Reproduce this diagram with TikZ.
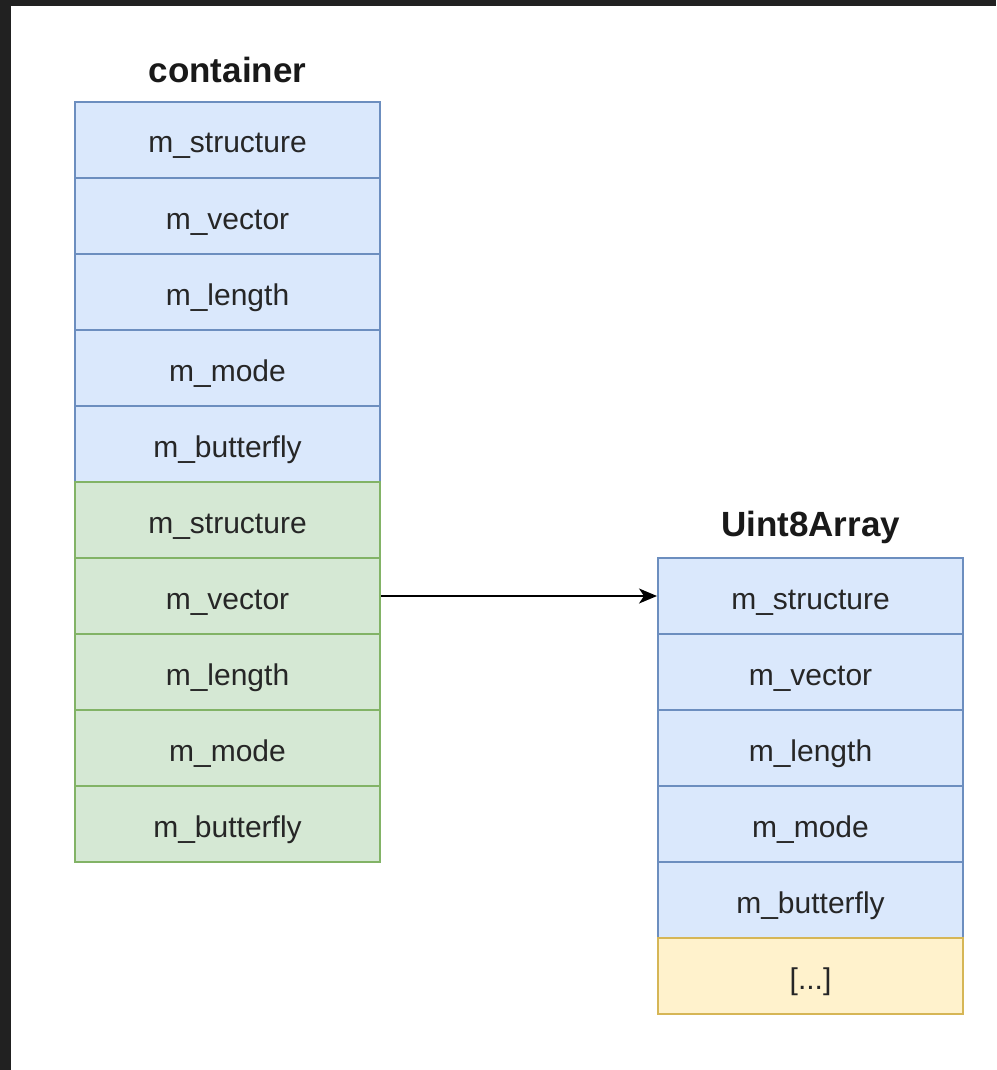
\documentclass[tikz,border=0pt]{standalone}
\usepackage{fontspec}
\setmainfont{Liberation Sans}
\usetikzlibrary{arrows.meta}
\definecolor{frame}{HTML}{212121}
\definecolor{bluefill}{HTML}{DAE8FC}
\definecolor{bluedraw}{HTML}{6C8EBF}
\definecolor{greenfill}{HTML}{D5E8D4}
\definecolor{greendraw}{HTML}{82B366}
\definecolor{yellowfill}{HTML}{FFF2CC}
\definecolor{yellowdraw}{HTML}{D6B656}
\tikzset{
  field/.style={rectangle, minimum width=305pt, minimum height=76pt, inner sep=0pt,
    line width=2pt, font=\fontsize{30}{36}\selectfont, text=black!85,
    text height=26pt, text depth=0pt},
  bluefield/.style={field, fill=bluefill, draw=bluedraw},
  greenfield/.style={field, fill=greenfill, draw=greendraw},
  yellowfield/.style={field, fill=yellowfill, draw=yellowdraw},
  title/.style={font=\fontsize{35}{40}\selectfont\bfseries, text=black!90},
  link/.style={line width=2pt, -{Stealth[length=18pt,width=15pt,inset=5pt]}}
}
\begin{document}
\begin{tikzpicture}[x=1pt,y=-1pt]
  % page and dark frame
  \fill[frame] (0,0) rectangle (996,1070);
  \fill[white] (11,6) rectangle (996,1070);
  \useasboundingbox (0,0) rectangle (996,1070);

  % container object
  \node[title] (ctitle) at (227.5,70) {container};
  \node[bluefield]  (c1)  at (227.5,140) {m\_structure};
  \node[bluefield]  (c2)  at (227.5,216) {m\_vector};
  \node[bluefield]  (c3)  at (227.5,292) {m\_length};
  \node[bluefield]  (c4)  at (227.5,368) {m\_mode};
  \node[bluefield]  (c5)  at (227.5,444) {m\_butterfly};
  \node[greenfield] (c6)  at (227.5,520) {m\_structure};
  \node[greenfield] (c7)  at (227.5,596) {m\_vector};
  \node[greenfield] (c8)  at (227.5,672) {m\_length};
  \node[greenfield] (c9)  at (227.5,748) {m\_mode};
  \node[greenfield] (c10) at (227.5,824) {m\_butterfly};

  % Uint8Array object
  \node[title] (utitle) at (810.5,527) {Uint8Array};
  \node[bluefield]   (u1) at (810.5,596) {m\_structure};
  \node[bluefield]   (u2) at (810.5,672) {m\_vector};
  \node[bluefield]   (u3) at (810.5,748) {m\_length};
  \node[bluefield]   (u4) at (810.5,824) {m\_mode};
  \node[bluefield]   (u5) at (810.5,900) {m\_butterfly};
  \node[yellowfield] (u6) at (810.5,976) {[...]};

  % pointer from the vector field
  \draw[link] (c7.east) -- (u1.west);
\end{tikzpicture}
\end{document}
